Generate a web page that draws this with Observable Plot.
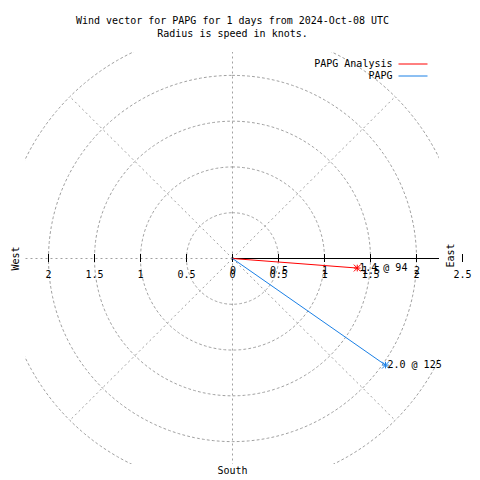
<!DOCTYPE html>
<html>
<head>
<meta charset="utf-8">
<script src="https://cdn.jsdelivr.net/npm/d3@7"></script>
<script src="https://cdn.jsdelivr.net/npm/@observablehq/plot@0.6"></script>
<style>
  html, body { margin: 0; padding: 0; background: #ffffff; }
  #chart { width: 480px; height: 480px; }
</style>
</head>
<body>
<div id="chart"></div>
<script>
// ---- Data ----
const titleLine1 = "Wind vector for PAPG for 1 days from 2024-Oct-08 UTC";
const titleLine2 = "Radius is speed in knots.";
const series = ["PAPG Analysis", "PAPG"];
const speeds = [1.36, 2.03];          // knots
const directions = [94.4, 125];       // degrees, clockwise from north
const ringRadii = [0.5, 1, 1.5, 2, 2.5];
const spokeAngles = [0, 45, 90, 135, 180, 225, 270, 315];
const tickValues = [-2, -1.5, -1, -0.5, 0, 0.5, 1, 1.5, 2, 2.5];
const directionLabels = ["West", "East", "South"];

// ---- Styles ----
const FONT = "DejaVu Sans Mono";
const seriesColors = ["#ff0000", "#1a80e6"];
const GRID = "#a0a0a0";

const rad = Math.PI / 180;
const rMax = d3.max(ringRadii);
const rows = series.map((s, i) => ({series: s, speed: speeds[i], dir: directions[i]}));
const vx = d => d.speed * Math.sin(d.dir * rad);
const vy = d => d.speed * Math.cos(d.dir * rad);

const ringPoints = ringRadii.flatMap(r => d3.range(0, 361, 1).map(a => ({r, a})));

// horizontal line symbol for legend swatches
const hline = {
  draw(context, size) {
    const r = Math.sqrt(size / Math.PI);
    context.moveTo(-r, 0);
    context.lineTo(r, 0);
  }
};

const legendMarks = series.flatMap((s, i) => [
  Plot.text([s], {frameAnchor: "top-right", text: d => d, dx: -47, dy: 11 + i * 12,
    textAnchor: "end", lineAnchor: "middle", fill: "black"}),
  Plot.dot([s], {frameAnchor: "top-right", dx: -26.5, dy: 11.5 + i * 12,
    symbol: hline, r: 14.5, stroke: seriesColors[i], fill: "none", strokeWidth: 1})
]);

const chart = Plot.plot({
  width: 480,
  height: 480,
  marginLeft: 25,
  marginRight: 41,
  marginTop: 52,
  marginBottom: 16,
  x: {domain: [-2.25, 2.25], axis: null},
  y: {domain: [-2.25, 2.25], axis: null},
  color: {domain: series, range: seriesColors},
  style: {fontFamily: FONT, fontSize: "10px", background: "#ffffff", overflow: "visible", color: "black"},
  marks: [
    // polar grid rings
    Plot.line(ringPoints, {
      x: d => d.r * Math.sin(d.a * rad),
      y: d => d.r * Math.cos(d.a * rad),
      z: "r", stroke: GRID, strokeWidth: 1, strokeDasharray: "2,3", clip: true
    }),
    // polar grid spokes
    Plot.link(spokeAngles, {
      x1: 0, y1: 0,
      x2: a => rMax * Math.sin(a * rad),
      y2: a => rMax * Math.cos(a * rad),
      stroke: GRID, strokeWidth: 1, strokeDasharray: "2,3", clip: true
    }),
    // radial axis line (east)
    Plot.ruleY([0], {x1: 0, x2: rMax, stroke: "black", strokeWidth: 1, clip: true, shapeRendering: "crispEdges"}),
    // tick marks
    Plot.ruleX(tickValues, {x: d => d, y1: 0, y2: 0, insetTop: -4, insetBottom: -4, stroke: "black", shapeRendering: "crispEdges"}),
    // tick labels
    Plot.text(tickValues, {x: d => d, y: 0, text: d => String(Math.abs(d)), dy: 16, fill: "black", textAnchor: "middle", lineAnchor: "middle"}),
    Plot.text(tickValues.filter(d => d >= 0 && d < rMax), {x: d => d, y: 0, text: d => String(Math.abs(d)), dy: 12, dx: 0.5, fill: "black", textAnchor: "middle", lineAnchor: "middle"}),
    // direction labels
    Plot.text([directionLabels[0]], {frameAnchor: "left", text: d => d, rotate: -90, dx: -10, fill: "black", textAnchor: "middle", lineAnchor: "middle"}),
    Plot.text([directionLabels[1]], {frameAnchor: "right", text: d => d, rotate: -90, dx: 11, dy: -3, fill: "black", textAnchor: "middle", lineAnchor: "middle"}),
    Plot.text([directionLabels[2]], {frameAnchor: "bottom", text: d => d, dy: 6.5, fill: "black", textAnchor: "middle", lineAnchor: "middle"}),
    // wind vectors
    Plot.link(rows, {x1: 0, y1: 0, x2: vx, y2: vy, stroke: "series", strokeWidth: 1}),
    Plot.dot(rows, {x: vx, y: vy, stroke: "series", symbol: "plus", r: 2.3, strokeWidth: 1}),
    Plot.dot(rows, {x: vx, y: vy, stroke: "series", symbol: "times", r: 3.2, strokeWidth: 1}),
    Plot.text(rows, {x: vx, y: vy, text: d => `${d.speed.toFixed(1)} @ ${Math.round(d.dir)}`, textAnchor: "start", lineAnchor: "middle", dx: 2, fill: "black"}),
    // title
    Plot.text([titleLine1], {frameAnchor: "top", text: d => d, dy: -31.5, fill: "black", textAnchor: "middle", lineAnchor: "middle"}),
    Plot.text([titleLine2], {frameAnchor: "top", text: d => d, dy: -18.3, fill: "black", textAnchor: "middle", lineAnchor: "middle"}),
    // legend
    ...legendMarks
  ]
});
document.getElementById("chart").appendChild(chart);
</script>
</body>
</html>
